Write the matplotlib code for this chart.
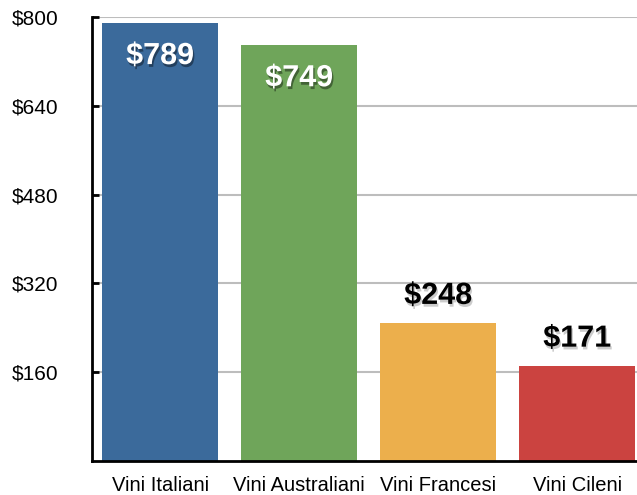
import matplotlib.pyplot as plt
import matplotlib.patheffects as pe

# Data
categories = ["Vini Italiani", "Vini Australiani", "Vini Francesi", "Vini Cileni"]
values = [789, 749, 248, 171]
colors = ["#3b6a9b", "#6fa55a", "#ecaf4c", "#cb4340"]
y_ticks = [160, 320, 480, 640, 800]
y_tick_labels = ["$160", "$320", "$480", "$640", "$800"]
label_inside = [True, True, False, False]

plt.rcParams["font.family"] = ["Liberation Sans", "DejaVu Sans"]

fig = plt.figure(figsize=(6.37, 4.95), dpi=100)
ax = fig.add_axes([92 / 637, 34 / 495, 1 - 92 / 637, 444 / 495])

x = list(range(len(categories)))
ax.bar(x, values, width=0.835, color=colors, zorder=2)

ax.set_xlim(-0.49, 3.43)
ax.set_ylim(0, 800)
ax.set_yticks(y_ticks)
ax.set_yticklabels(y_tick_labels)
ax.set_xticks(x)
ax.set_xticklabels(categories)

ax.yaxis.grid(True, color="#bdbdbd", linewidth=1.5, zorder=0)
ax.set_axisbelow(True)

for side in ["top", "right"]:
    ax.spines[side].set_visible(False)
for side in ["left", "bottom"]:
    ax.spines[side].set_linewidth(2)
    ax.spines[side].set_color("black")

ax.tick_params(axis="y", direction="in", length=5, width=2, labelsize=15, pad=24)
ax.tick_params(axis="x", length=0, labelsize=14.5, pad=11)

# value labels
for xi, v, inside in zip(x, values, label_inside):
    if inside:
        ax.annotate(f"${v}", (xi, v), xytext=(0, -29.5), textcoords="offset points",
                    ha="center", va="baseline", fontsize=22, fontweight="bold",
                    color="white", zorder=3,
                    path_effects=[pe.withSimplePatchShadow(offset=(1, -2), shadow_rgbFace="black", alpha=0.4)])
    else:
        ax.annotate(f"${v}", (xi, v), xytext=(0, 14), textcoords="offset points",
                    ha="center", va="baseline", fontsize=22, fontweight="bold",
                    color="black", zorder=3,
                    path_effects=[pe.withSimplePatchShadow(offset=(1, -2), shadow_rgbFace="gray", alpha=0.4)])

fig.savefig("out.png", dpi=100)
